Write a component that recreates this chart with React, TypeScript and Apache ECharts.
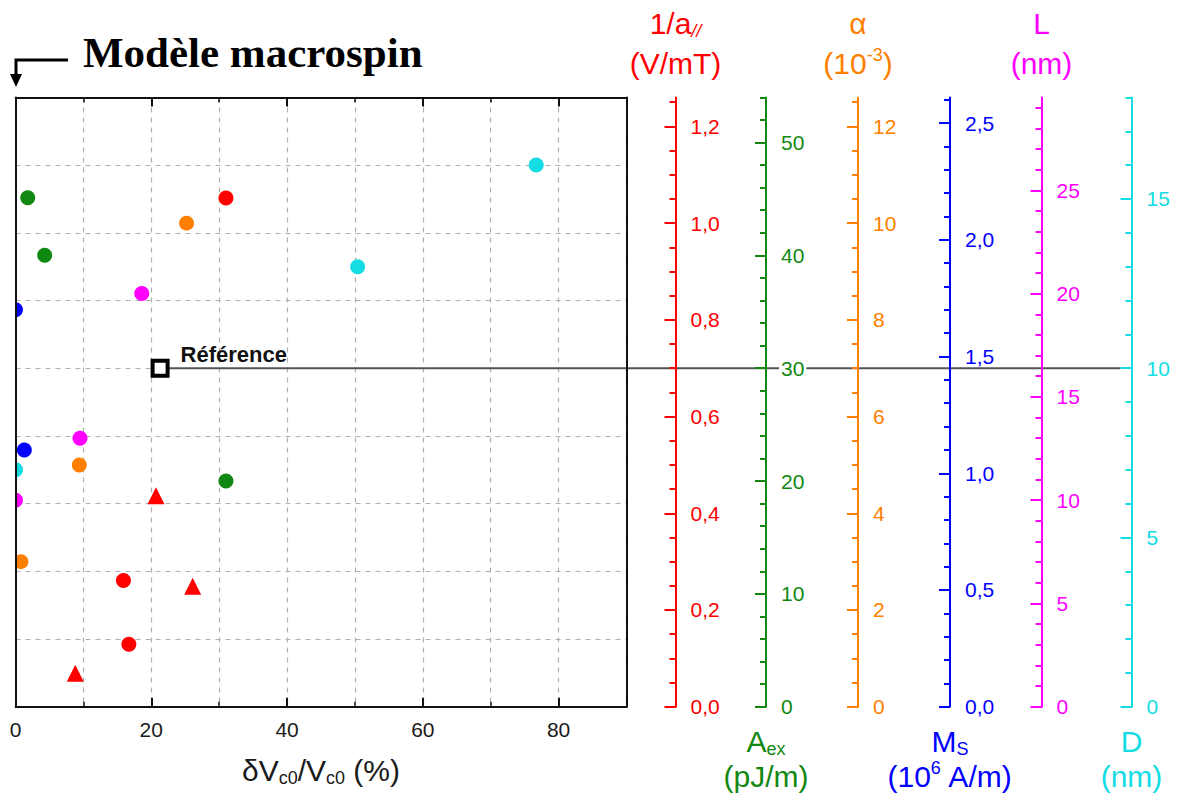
import React, { useEffect, useRef } from "react";
import * as echarts from "echarts";

// ---------- data ----------
const xTickLabels = [0, 20, 40, 60, 80];
const refPoint = [21.3, 5];

const redCircles = [[31.0, 1.052], [15.9, 0.261], [16.7, 0.129]];
const redTriangles = [[20.7, 0.436], [26.1, 0.249], [8.8, 0.069]];
const greenPoints = [[1.8, 45.1], [4.3, 40.0], [31.0, 20.0]];
const orangePoints = [[25.2, 10.0], [9.4, 5.0], [0.8, 3.0]];
const bluePoints = [[0.0, 1.70], [1.3, 1.10]];
const magentaPoints = [[18.6, 20.0], [9.5, 13.0], [0.0, 10.0]];
const cyanPoints = [[76.7, 16.0], [50.4, 13.0], [0.0, 7.0]];

const redTicks = [0, 0.2, 0.4, 0.6, 0.8, 1.0, 1.2];
const greenTicks = [0, 10, 20, 30, 40, 50];
const orangeTicks = [0, 2, 4, 6, 8, 10, 12];
const blueTicks = [0, 0.5, 1.0, 1.5, 2.0, 2.5];
const magentaTicks = [0, 5, 10, 15, 20, 25];
const cyanTicks = [0, 5, 10, 15];

// ---------- layout / style ----------
const W = 1181;
const H = 803;
const gridLeft = 15.5;
const gridRightX = 626.5;
const gridTop = 97.4;
const gridBottomY = 706.7;
const SANS = "'Liberation Sans', Arial, sans-serif";
const SERIF = "'Liberation Serif', 'Times New Roman', serif";

const RED = "#FF0000";
const GREEN = "#118811";
const ORANGE = "#FF8000";
const BLUE = "#0000FF";
const MAGENTA = "#FF00FF";
const CYAN = "#14DCE3";

const axisDefs = [
  { color: RED, max: 1.26, major: redTicks, step: 0.05, dec: 1, offset: 49 },
  { color: GREEN, max: 54, major: greenTicks, step: 2, dec: 0, offset: 139.5 },
  { color: ORANGE, max: 12.6, major: orangeTicks, step: 0.5, dec: 0, offset: 231.5 },
  { color: BLUE, max: 2.61, major: blueTicks, step: 0.1, dec: 1, offset: 323.5 },
  { color: MAGENTA, max: 29.5, major: magentaTicks, step: 1, dec: 0, offset: 415 },
  { color: CYAN, max: 18, major: cyanTicks, step: 1, dec: 0, offset: 505 },
];

function minorValues(step: number, max: number) {
  const out: number[] = [];
  for (let i = 0; i * step <= max + 1e-9; i++) out.push(Math.round(i * step * 1e6) / 1e6);
  return out;
}

function fmt(v: number, dec: number) {
  return dec > 0 ? Number(v).toFixed(dec).replace(".", ",") : String(Math.round(v));
}

function coloredAxes(def: any) {
  const base = {
    type: "value",
    gridIndex: 0,
    position: "right",
    offset: def.offset,
    min: 0,
    max: def.max,
    splitLine: { show: false },
    z: 5,
  };
  return [
    {
      ...base,
      axisLine: { show: true, onZero: false, lineStyle: { color: def.color, width: 2 } },
      axisTick: { show: true, inside: true, length: 11, customValues: def.major, lineStyle: { color: def.color, width: 2 } },
      axisLabel: {
        show: true,
        customValues: def.major,
        margin: 13,
        color: def.color,
        fontSize: 21,
        fontFamily: SANS,
        backgroundColor: "#ffffff",
        padding: [0, 2],
        formatter: (v: number) => fmt(v, def.dec),
      },
    },
    {
      ...base,
      axisLine: { show: false, onZero: false },
      axisTick: { show: true, inside: true, length: 6, customValues: minorValues(def.step, def.max), lineStyle: { color: def.color, width: 2 } },
      axisLabel: { show: false },
    },
  ];
}

function scatter(name: string, data: number[][], yAxisIndex: number, color: string, symbol = "circle", size = 15) {
  return {
    name,
    type: "scatter",
    xAxisIndex: 0,
    yAxisIndex,
    data,
    symbol,
    symbolSize: size,
    itemStyle: { color, opacity: 1 },
    z: 3,
  };
}

function richTitle(x: number, y: number, text: string, color: string, size = 30) {
  return {
    type: "text",
    x,
    y,
    z: 20,
    style: {
      text,
      align: "center",
      verticalAlign: "middle",
      fill: color,
      font: `${size}px ${SANS}`,
      rich: {
        m: { fontSize: size, lineHeight: size + 4, fontFamily: SANS, fill: color, color },
        sub: { fontSize: Math.round(size * 0.6), lineHeight: 8, verticalAlign: "bottom", fontFamily: SANS, fill: color, color },
        subi: { fontSize: Math.round(size * 0.6), lineHeight: 8, verticalAlign: "bottom", fontStyle: "italic", fontFamily: SANS, fill: color, color },
        sup: { fontSize: Math.round(size * 0.6), lineHeight: 8, verticalAlign: "top", fontFamily: SANS, fill: color, color },
      },
    },
  };
}

export default function App() {
  const ref = useRef<HTMLDivElement>(null);

  useEffect(() => {
    if (!ref.current) return;
    const chart = echarts.init(ref.current, null, { renderer: "svg" });

    const yAxes: any[] = [
      {
        type: "value", gridIndex: 0, position: "left", min: 0, max: 9, interval: 1,
        axisLine: { show: false, onZero: false }, axisTick: { show: false }, axisLabel: { show: false },
        splitLine: { show: true, lineStyle: { color: "#B0B0B0", type: [5, 5], width: 1.2 } },
      },
      {
        type: "value", gridIndex: 0, position: "left", min: 0, max: 9, z: 11,
        axisLine: { show: true, onZero: false, lineStyle: { color: "#111", width: 2 } },
        axisTick: { show: false }, axisLabel: { show: false }, splitLine: { show: false },
      },
      {
        type: "value", gridIndex: 0, position: "right", offset: 0, min: 0, max: 9, z: 11,
        axisLine: { show: true, onZero: false, lineStyle: { color: "#111", width: 2 } },
        axisTick: { show: false }, axisLabel: { show: false }, splitLine: { show: false },
      },
    ];
    const colorAxisIndex: number[] = [];
    axisDefs.forEach((d) => {
      colorAxisIndex.push(yAxes.length);
      yAxes.push(...coloredAxes(d));
    });

    const xBase = { type: "value", gridIndex: 0, min: 0, max: 90 };
    const xAxes = [
      {
        ...xBase, position: "bottom", interval: 10,
        axisLine: { show: true, onZero: false, lineStyle: { color: "#111", width: 2 } },
        axisTick: { show: true, inside: true, length: 5, lineStyle: { color: "#111", width: 1.5 } },
        axisLabel: { show: true, customValues: xTickLabels, margin: 12, color: "#1a1a1a", fontSize: 21, fontFamily: SANS },
        splitLine: { show: true, lineStyle: { color: "#B0B0B0", type: [5, 5], width: 1.2 } },
      },
      {
        ...xBase, position: "bottom",
        axisLine: { show: false, onZero: false },
        axisTick: { show: true, inside: true, length: 9, customValues: xTickLabels, lineStyle: { color: "#111", width: 2 } },
        axisLabel: { show: false }, splitLine: { show: false },
      },
      {
        ...xBase, position: "top", interval: 10,
        axisLine: { show: true, onZero: false, lineStyle: { color: "#111", width: 2 } },
        axisTick: { show: true, inside: true, length: 5, lineStyle: { color: "#111", width: 1.5 } },
        axisLabel: { show: false }, splitLine: { show: false },
      },
      {
        ...xBase, position: "top",
        axisLine: { show: false, onZero: false },
        axisTick: { show: true, inside: true, length: 9, customValues: xTickLabels, lineStyle: { color: "#111", width: 2 } },
        axisLabel: { show: false }, splitLine: { show: false },
      },
    ];

    const refSeries = {
      name: "Référence",
      type: "scatter",
      xAxisIndex: 0,
      yAxisIndex: 0,
      data: [refPoint],
      symbol: "rect",
      symbolSize: 15,
      itemStyle: { color: "#ffffff", borderColor: "#000000", borderWidth: 4, opacity: 1 },
      label: {
        show: true,
        position: [30, -15],
        formatter: "Référence",
        color: "#111",
        fontSize: 22,
        fontWeight: "bold",
        fontFamily: SANS,
      },
      z: 6,
    };

    const series = [
      scatter("1/a circles", redCircles, colorAxisIndex[0], RED),
      scatter("1/a triangles", redTriangles, colorAxisIndex[0], RED, "triangle", 17),
      scatter("Aex", greenPoints, colorAxisIndex[1], GREEN),
      scatter("alpha", orangePoints, colorAxisIndex[2], ORANGE),
      scatter("Ms", bluePoints, colorAxisIndex[3], BLUE),
      scatter("L", magentaPoints, colorAxisIndex[4], MAGENTA),
      scatter("D", cyanPoints, colorAxisIndex[5], CYAN),
      refSeries,
    ];

    const axX = (i: number) => gridRightX + axisDefs[i].offset;

    const baseGraphics: any[] = [
      // white mask left of plot so dots at x=0 appear cut by the frame
      { type: "rect", z: 10, shape: { x: 0, y: gridTop, width: gridLeft - 0.5, height: gridBottomY - gridTop }, style: { fill: "#ffffff" } },
      // title
      {
        type: "text", x: 83, y: 52, z: 20,
        style: { text: "Modèle macrospin", font: `bold 43px ${SERIF}`, fill: "#000", align: "left", verticalAlign: "middle" },
      },
      // arrow
      { type: "polyline", z: 20, shape: { points: [[68, 60], [16, 60], [16, 76]] }, style: { stroke: "#000", lineWidth: 3, fill: "none" } },
      { type: "polygon", z: 20, shape: { points: [[10, 74], [22, 74], [16, 87]] }, style: { fill: "#000" } },
      // top axis titles
      richTitle(axX(0), 23, "{m|1/a}{subi|//}", RED),
      richTitle(axX(0), 63, "{m|(V/mT)}", RED),
      richTitle(axX(2), 23, "{m|α}", ORANGE),
      richTitle(axX(2), 63, "{m|(10}{sup|-3}{m|)}", ORANGE),
      richTitle(axX(4), 23, "{m|L}", MAGENTA),
      richTitle(axX(4), 63, "{m|(nm)}", MAGENTA),
      // bottom axis titles
      richTitle(axX(1), 741, "{m|A}{sub|ex}", GREEN),
      richTitle(axX(1), 776, "{m|(pJ/m)}", GREEN),
      richTitle(axX(3), 741, "{m|M}{sub|S}", BLUE),
      richTitle(axX(3), 776, "{m|(10}{sup|6}{m| A/m)}", BLUE),
      richTitle(axX(5), 741, "{m|D}", CYAN),
      richTitle(axX(5), 776, "{m|(nm)}", CYAN),
      // x axis title
      richTitle((gridLeft + gridRightX) / 2, 770, "{m|δV}{sub|c0}{m|/V}{sub|c0}{m| (%)}", "#1a1a1a", 30),
    ];

    chart.setOption({
      animation: false,
      backgroundColor: "#ffffff",
      grid: {
        left: gridLeft,
        top: gridTop,
        width: gridRightX - gridLeft,
        height: gridBottomY - gridTop,
        containLabel: false,
        outerBoundsMode: "none",
      },
      xAxis: xAxes,
      yAxis: yAxes,
      series,
      graphic: { elements: baseGraphics },
    });

    // horizontal reference line through all axes
    const p = chart.convertToPixel({ seriesIndex: series.length - 1 }, refPoint) as number[];
    if (p) {
      chart.setOption({
        graphic: {
          elements: [
            ...baseGraphics,
            {
              type: "line", z: 1,
              shape: { x1: p[0] + 8, y1: p[1], x2: axX(5) - 11, y2: p[1] },
              style: { stroke: "#555555", lineWidth: 2 },
            },
          ],
        },
      });
    }

    return () => chart.dispose();
  }, []);

  return (
    <div
      ref={ref}
      style={{ position: "absolute", left: 0, top: 0, width: W, height: H, background: "#fff" }}
    />
  );
}
